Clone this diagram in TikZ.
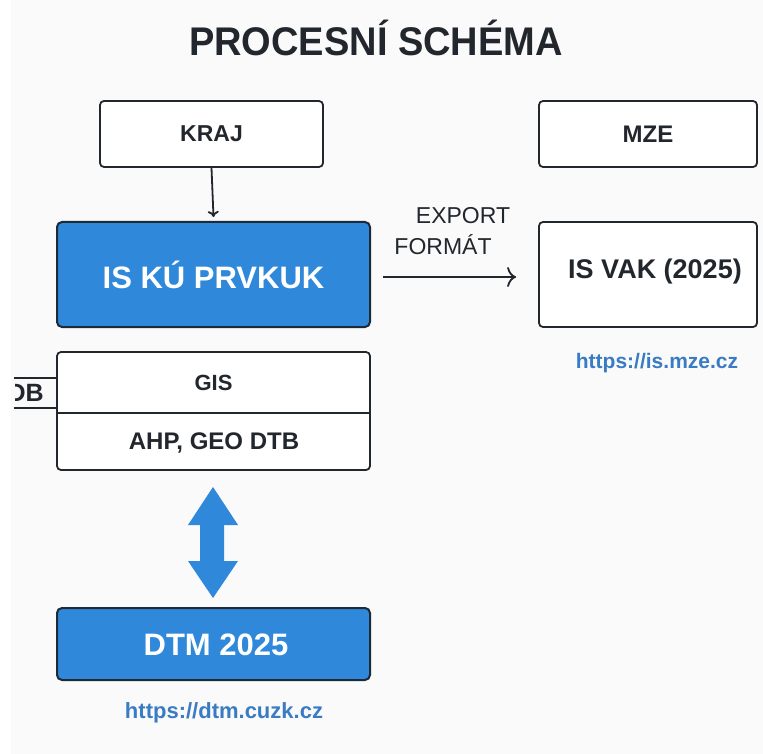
\documentclass[tikz,border=0pt]{standalone}
\usepackage{fontspec}
\setmainfont{Liberation Sans}
\usetikzlibrary{arrows.meta,calc}
\definecolor{boxblue}{HTML}{3088DA}
\definecolor{navy}{HTML}{1D2A38}
\definecolor{ink}{HTML}{22272D}
\definecolor{urlblue}{HTML}{3A7CC4}
\definecolor{bgray}{HTML}{FAFAFB}
\begin{document}
\begin{tikzpicture}[x=1pt,y=-1pt,
  wbox/.style={draw=ink,line width=1.8pt,rounded corners=4pt,fill=white,inner sep=0pt},
  bbox/.style={draw=navy,line width=2pt,rounded corners=5pt,fill=boxblue,inner sep=0pt,text=white,font=\bfseries},
  lbl/.style={text=ink,font=\bfseries,inner sep=0pt},
  url/.style={text=urlblue,font=\bfseries,inner sep=0pt},
  conn/.style={draw=ink,line width=1.8pt}]
\useasboundingbox (0,0) rectangle (763,754);
\fill[white] (0,0) rectangle (763,754);
\fill[bgray] (11,0) rectangle (763,754);
% title
\node[lbl,font=\bfseries\fontsize{40}{44}\selectfont] (title) at (376,38) {\scalebox{0.95}[1]{PROCESNÍ SCHÉMA}};
% boxes
\node[wbox,minimum width=223pt,minimum height=66pt] (kraj) at (211.5,134) {};
\node[lbl,font=\bfseries\fontsize{23}{26}\selectfont] (krajt) at (kraj) {KRAJ};
\node[wbox,minimum width=218pt,minimum height=66pt] (mze) at (648,134) {};
\node[lbl,font=\bfseries\fontsize{24}{27}\selectfont] (mzet) at (mze) {MZE};
\node[bbox,minimum width=313pt,minimum height=105pt] (isku) at (213.5,274.5) {};
\node[text=white,font=\bfseries\fontsize{31}{34}\selectfont,inner sep=0pt] (iskut) at (isku) {IS KÚ PRVKUK};
\node[wbox,minimum width=218pt,minimum height=105pt] (isvak) at (648,274.5) {};
\node[lbl,font=\bfseries\fontsize{27}{30}\selectfont] (isvakt) at (655,272) {IS VAK (2025)};
\node[url,font=\bfseries\fontsize{21}{24}\selectfont] (url1) at (657,363) {https://is.mze.cz};
% GIS box
\node[wbox,minimum width=313pt,minimum height=118pt] (gis) at (213.5,411) {};
\draw[conn] ([yshift=-2pt]gis.west) -- ([yshift=-2pt]gis.east);
\node[lbl,font=\bfseries\fontsize{22}{25}\selectfont] (gist) at (213.5,383) {GIS};
\node[lbl,font=\bfseries\fontsize{24}{27}\selectfont] (ahp) at (214,443) {AHP, GEO DTB};
% clipped DB stub
\coordinate (s1) at (14,378);
\coordinate (s2) at (14,408);
\draw[conn] (s1) -- (s1 -| gis.west);
\draw[conn] (s2) -- (s2 -| gis.west);
\begin{scope}
\clip (15,381) rectangle (56,405);
\node[lbl,font=\bfseries\fontsize{25}{28}\selectfont,anchor=east] (db) at (44,393) {DB};
\end{scope}
% DTM
\node[bbox,minimum width=313pt,minimum height=72pt] (dtm) at (213.5,644) {};
\node[text=white,font=\bfseries\fontsize{31}{34}\selectfont,inner sep=0pt] (dtmt) at (216,645) {DTM 2025};
\node[url,font=\bfseries\fontsize{22}{25}\selectfont] (url2) at (224,713) {https://dtm.cuzk.cz};
% connectors
\draw[conn,-{To[length=6pt,width=11pt]}] (kraj.south) -- ([yshift=4pt]isku.north);
\draw[conn,-{To[length=9pt,width=20pt,line width=1.8pt]}] ([xshift=12pt,yshift=-2.5pt]isku.east) -- ([xshift=-22pt,yshift=-2.5pt]isvak.west);
\node[text=ink,font=\fontsize{23}{26}\selectfont,inner sep=0pt] (exp) at (463,216) {EXPORT};
\node[text=ink,font=\fontsize{23}{26}\selectfont,inner sep=0pt] (fmt) at (443,245) {FORMÁT};
% double arrow
\fill[boxblue] (213,487) -- (238,525) -- (224,525) -- (224,561) -- (238,561) -- (213,598)
  -- (188,561) -- (200,561) -- (200,525) -- (188,525) -- cycle;
\end{tikzpicture}
\end{document}
